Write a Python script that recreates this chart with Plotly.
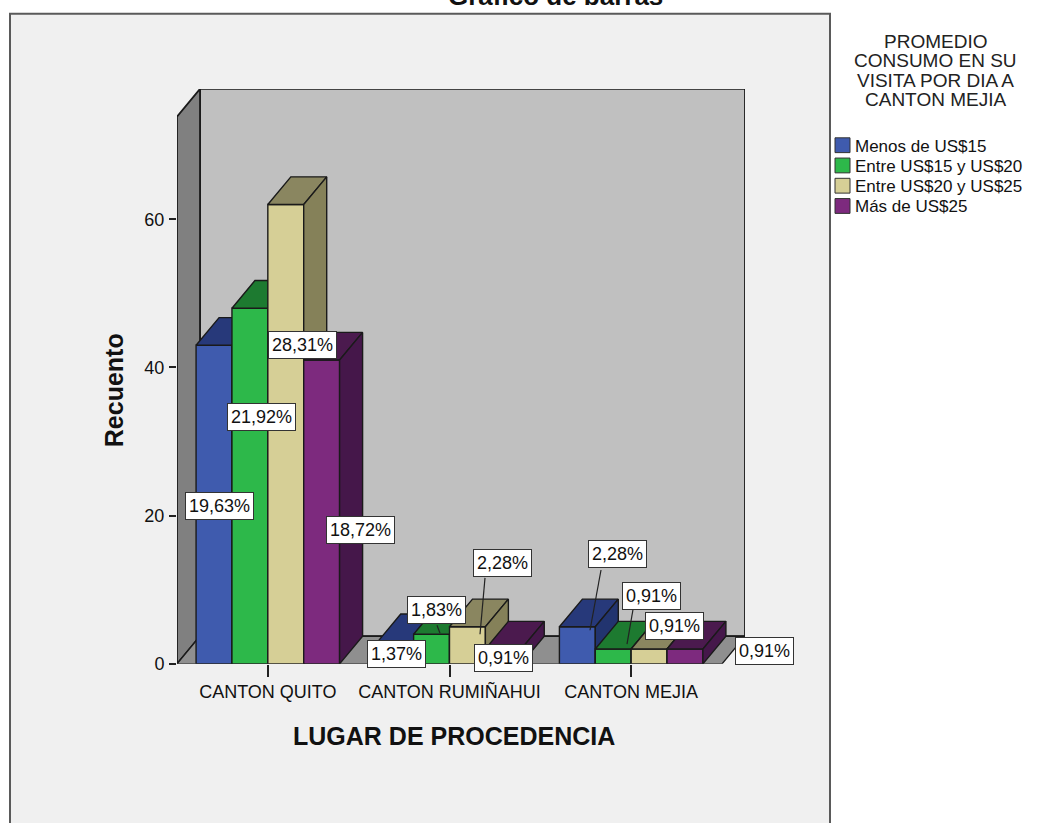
import plotly.graph_objects as go

W, H = 1045, 823

# ---- data -------------------------------------------------------------
categories = ["CANTON QUITO", "CANTON RUMIÑAHUI", "CANTON MEJIA"]
series_names = ["Menos de US$15", "Entre US$15 y US$20",
                "Entre US$20 y US$25", "Más de US$25"]
menos_15 = [43, 3, 5]
entre_15_20 = [48, 4, 2]
entre_20_25 = [62, 5, 2]
mas_25 = [41, 2, 2]
y_ticks = [0, 20, 40, 60]
legend_title = ["PROMEDIO", "CONSUMO EN SU", "VISITA POR DIA A", "CANTON MEJIA"]

series_values = [menos_15, entre_15_20, entre_20_25, mas_25]
total = sum(sum(s) for s in series_values)

# ---- styling ----------------------------------------------------------
FONT = "Liberation Sans, Arial, sans-serif"
front_colors = ["#3F5BAE", "#2DB84A", "#D6CF96", "#7D2A7E"]
top_colors = ["#27397A", "#1D7A30", "#8A8660", "#4B1A4E"]
side_colors = ["#22346F", "#1B6E2B", "#858159", "#45174A"]
EDGE = "#1a1a1a"

# pixel frame of the 3-D box
X_LEFT_PX, X_RIGHT_PX = 177, 722      # front floor edge
Y_ZERO_PX = 672                       # front baseline
PX_PER_COUNT = 7.5
DEPTH_PX = (23, 28)                   # back-wall shift (right, up)
WALL_TOP_PX = 118

XU = (X_RIGHT_PX - X_LEFT_PX) / len(categories)   # px per category
DX = DEPTH_PX[0] / XU
DY = DEPTH_PX[1] / PX_PER_COUNT
WALL_TOP = (Y_ZERO_PX - WALL_TOP_PX) / PX_PER_COUNT
X_MAX = len(categories) + DX
Y_MAX = WALL_TOP + DY

GROUP_W = 0.79
BAR_W = GROUP_W / len(series_values)


def px(x, y):
    return x / W, 1 - y / H


fig = go.Figure()


def poly(xs, ys, fill, width=1.4):
    fig.add_trace(go.Scatter(
        x=list(xs) + [xs[0]], y=list(ys) + [ys[0]],
        mode="lines", fill="toself", fillcolor=fill,
        line=dict(color=EDGE, width=width),
        hoverinfo="skip", showlegend=False))


# back wall, left wall and floor
poly([DX, X_MAX, X_MAX, DX], [DY, DY, Y_MAX, Y_MAX], "#C0C0C0", 1.8)
poly([0, DX, DX, 0], [0, DY, Y_MAX, WALL_TOP], "#808080", 1.8)
poly([0, len(categories), X_MAX, DX], [0, 0, DY, DY], "#8F8F8F", 1.4)

# bars: front face, top face, right side face, drawn left to right
for ci in range(len(categories)):
    start = ci + 0.5 - GROUP_W / 2
    for si, vals in enumerate(series_values):
        v = vals[ci]
        x0 = start + si * BAR_W
        x1 = x0 + BAR_W
        poly([x0, x1, x1, x0], [0, 0, v, v], front_colors[si])
        poly([x0, x1, x1 + DX, x0 + DX], [v, v, v + DY, v + DY], top_colors[si])
        poly([x1, x1 + DX, x1 + DX, x1], [0, DY, v + DY, v], side_colors[si])

# ---- layout -----------------------------------------------------------
x_dom = [X_LEFT_PX / W, (X_LEFT_PX + X_MAX * XU) / W]
y_dom = [(H - Y_ZERO_PX) / H, (H - Y_ZERO_PX + Y_MAX * PX_PER_COUNT) / H]

shapes = []
annotations = []


def text_at(x, y, text, size, xanchor="center", yanchor="middle", **kw):
    ax_, ay_ = px(x, y)
    d = dict(x=ax_, y=ay_, xref="paper", yref="paper", text=text,
             showarrow=False, xanchor=xanchor, yanchor=yanchor,
             font=dict(family=FONT, size=size, color=kw.pop("color", "#111")))
    d.update(kw)
    annotations.append(d)


# outer chart panel
shapes.append(dict(type="rect", xref="paper", yref="paper", layer="below",
                   x0=10 / W, x1=830 / W, y0=-0.02, y1=1 - 14 / H,
                   fillcolor="#F0F0F0", line=dict(color="#5a5a5a", width=2)))

# percentage labels (center positions in px)
label_pos = [
    [(219, 512), (396, 662), (617, 561)],
    [(261, 422), (437, 618), (651, 603)],
    [(302, 349), (502, 570), (674, 634)],
    [(360, 537), (503, 666), (764, 659)],
]
for si, vals in enumerate(series_values):
    for ci, v in enumerate(vals):
        pct = f"{v / total * 100:.2f}".replace(".", ",") + "%"
        text_at(*label_pos[si][ci], pct, 18, bgcolor="white",
                bordercolor="#333", borderwidth=1, borderpad=3)

# leader lines from labels to bars
leaders = [((485, 585), (480, 642)), ((601, 577), (590, 638)),
           ((633, 617), (627, 652)), ((437, 633), (440, 641))]
for (ax, ay), (bx, by) in leaders:
    x0, y0 = px(ax, ay)
    x1, y1 = px(bx, by)
    shapes.append(dict(type="line", xref="paper", yref="paper",
                       x0=x0, y0=y0, x1=x1, y1=y1,
                       line=dict(color="#222", width=1.2)))

# axis titles and chart title
text_at(114, 395, "<b>Recuento</b>", 25, textangle=-90)
text_at(454, 745, "<b>LUGAR DE PROCEDENCIA</b>", 25)
text_at(555, 13, "<b>Gráfico de barras</b>", 26, yanchor="bottom")

# legend
for i, line in enumerate(legend_title):
    text_at(935, 42 + i * 19.5, line, 19, color="#222")
for i, name in enumerate(series_names):
    cy = 147 + i * 20.5
    sx0, sy0 = px(835, cy - 7.5)
    sx1, sy1 = px(850, cy + 7.5)
    shapes.append(dict(type="rect", xref="paper", yref="paper",
                       x0=sx0, x1=sx1, y0=sy1, y1=sy0,
                       fillcolor=front_colors[i], line=dict(color="#333", width=1)))
    text_at(853, cy + 1, name, 17, xanchor="left")

fig.update_layout(
    width=W, height=H,
    margin=dict(l=0, r=0, t=0, b=0),
    paper_bgcolor="white",
    plot_bgcolor="rgba(0,0,0,0)",
    showlegend=False,
    shapes=shapes,
    annotations=annotations,
    xaxis=dict(domain=x_dom, range=[0, X_MAX], showgrid=False, zeroline=False,
               showline=False, tickvals=[0.5 + i for i in range(len(categories))],
               ticktext=categories, ticks="outside", ticklen=12, tickwidth=1.5,
               tickcolor="#222", tickfont=dict(family=FONT, size=18, color="#111"),
               fixedrange=True),
    yaxis=dict(domain=y_dom, range=[0, Y_MAX], showgrid=False, zeroline=False,
               showline=False, tickvals=y_ticks, ticks="outside", ticklen=7,
               tickwidth=1.5, tickcolor="#222", ticklabelstandoff=1,
               tickfont=dict(family=FONT, size=18, color="#111"), fixedrange=True),
)

fig.write_html("out.html")
